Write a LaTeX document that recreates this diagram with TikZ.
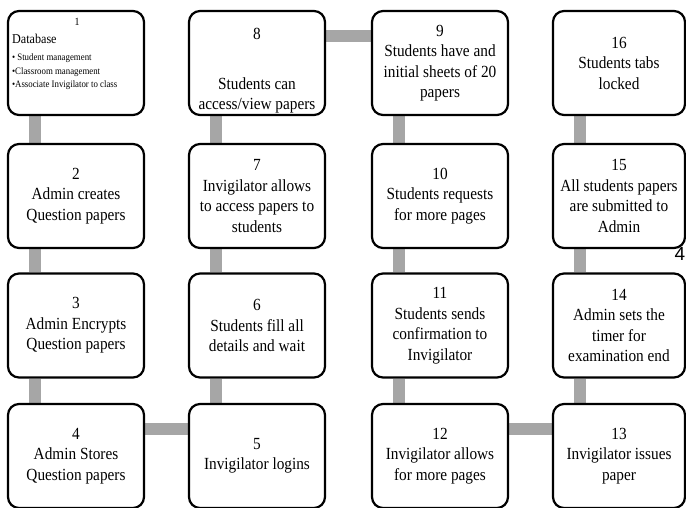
\documentclass[tikz,border=0pt]{standalone}
\usepackage{fontspec}
\setmainfont{Liberation Serif}[FakeStretch=0.9]
\newfontfamily\pagefont{Liberation Sans}
\usetikzlibrary{positioning, backgrounds, calc}
\definecolor{bargray}{RGB}{166,166,166}

\tikzset{
	stepbox/.style={draw=black, line width=2.2pt, rounded corners=11pt, fill=white,
		minimum width=136pt, minimum height=104pt, inner sep=2pt, align=center,
		font=\fontsize{17}{20.5}\selectfont},
	lastcol/.style={minimum width=132pt},
	bar/.style={draw=bargray, line width=12pt}
}

\begin{document}
\begin{tikzpicture}[x=1pt, y=-1pt]
	\useasboundingbox (0,0) rectangle (686,508);
	% column 1
	\node[stepbox] (n1) at (76,63) {};
	\node[anchor=north west, inner sep=0pt] (n1txt) at ([xshift=5pt,yshift=-8.5pt]n1.north west) {\parbox{130pt}{\centering\fontsize{11}{13}\selectfont 1\par
		\raggedright\fontsize{13.5}{18}\selectfont Database\par\vspace{3pt}
		\fontsize{9.8}{13.7}\selectfont • Student management\par •Classroom management\par •Associate Invigilator to class\par}};
	\node[stepbox] (n2) at (76,196) {2\\Admin creates\\Question papers};
	\node[stepbox] (n3) at (76,325.5) {3\\Admin Encrypts\\Question papers};
	\node[stepbox] (n4) at (76,456) {4\\Admin Stores\\Question papers};
	% column 2
	\node[stepbox] (n5) at (257,456) {5\\Invigilator logins};
	\node[stepbox] (n6) at (257,325.5) {6\\Students fill all\\details and wait};
	\node[stepbox] (n7) at (257,196) {7\\Invigilator allows\\to access papers to\\students};
	\node[stepbox, inner sep=0pt] (n8) at (257,63) {\rule{0pt}{27pt}8\\[29pt]Students can\\access/view papers};
	% column 3
	\node[stepbox] (n9) at (440,63) {9\\Students have and\\initial sheets of 20\\papers};
	\node[stepbox] (n10) at (440,196) {10\\Students requests\\for more pages};
	\node[stepbox] (n11) at (440,325.5) {11\\Students sends\\confirmation to\\Invigilator};
	\node[stepbox] (n12) at (440,456) {12\\Invigilator allows\\for more pages};
	% column 4
	\node[stepbox, lastcol] (n13) at (619,456) {13\\Invigilator issues\\paper};
	\node[stepbox, lastcol] (n14) at (619,325.5) {14\\Admin sets the\\timer for\\examination end};
	\node[stepbox, lastcol] (n15) at (619,196) {15\\All students papers\\are submitted to\\Admin};
	\node[stepbox, lastcol] (n16) at (619,63) {16\\Students tabs\\locked};
	\node[font=\pagefont\fontsize{19}{19}\selectfont, inner sep=0pt] (pagenum) at (680,254) {4};
	% connectors
	\begin{scope}[on background layer]
		\foreach \a/\b in {1/2,2/3,3/4,8/7,7/6,6/5,9/10,10/11,11/12,16/15,15/14,14/13}{
			\draw[bar] ([xshift=28pt]n\a.south west) -- ([xshift=28pt]n\b.north west);
		};
		\foreach \a/\b in {4/5,8/9,12/13}{
			\draw[bar] ([yshift=-26pt]n\a.north east) -- ([yshift=-26pt]n\b.north west);
		};
	\end{scope}
\end{tikzpicture}
\end{document}
